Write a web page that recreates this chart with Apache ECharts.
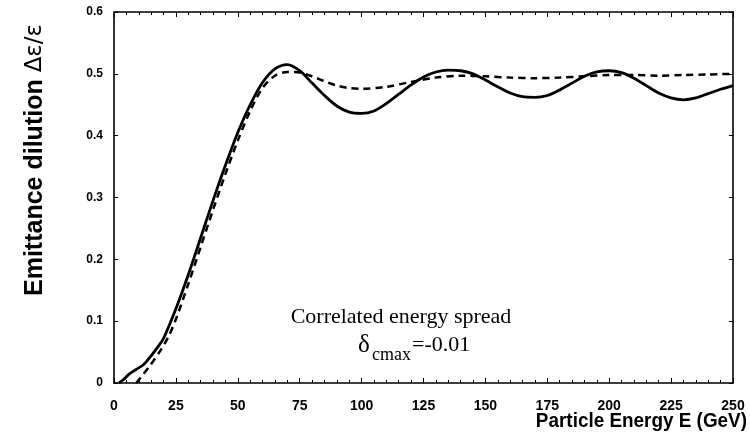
<!DOCTYPE html>
<html>
<head>
<meta charset="utf-8">
<script src="https://cdn.jsdelivr.net/npm/echarts@6/dist/echarts.min.js"></script>
<style>
html,body{margin:0;padding:0;background:#fff;}
#chart{width:750px;height:444px;}
</style>
</head>
<body>
<div id="chart"></div>
<script>
// Solid curve (correlated energy spread, with oscillation)
const solidE = [2, 4, 6, 9, 12, 15, 18, 20, 25, 30, 35, 40, 45, 50, 55, 60, 65, 70, 75, 80, 85, 90, 95, 100, 105, 110, 115, 120, 125, 130, 135, 140, 145, 150, 155, 160, 165, 170, 175, 180, 185, 190, 195, 200, 205, 210, 215, 220, 225, 230, 235, 240, 245, 250];
const solidV = [0, 0.006, 0.014, 0.022, 0.030, 0.044, 0.060, 0.072, 0.120, 0.175, 0.235, 0.295, 0.352, 0.405, 0.450, 0.486, 0.508, 0.515, 0.505, 0.485, 0.465, 0.448, 0.438, 0.436, 0.440, 0.452, 0.467, 0.482, 0.495, 0.503, 0.506, 0.505, 0.500, 0.490, 0.479, 0.469, 0.463, 0.462, 0.465, 0.474, 0.485, 0.496, 0.503, 0.505, 0.502, 0.493, 0.481, 0.469, 0.461, 0.458, 0.461, 0.468, 0.475, 0.481];
// Dashed curve
const dashE = [9, 11, 14.5, 19, 22, 25, 30, 35, 40, 45, 50, 55, 60, 65, 70, 75, 80, 85, 90, 95, 100, 110, 120, 130, 140, 150, 160, 170, 180, 190, 200, 210, 220, 230, 240, 250];
const dashV = [0, 0.010, 0.028, 0.054, 0.075, 0.103, 0.160, 0.220, 0.280, 0.338, 0.392, 0.440, 0.477, 0.497, 0.503, 0.502, 0.496, 0.488, 0.481, 0.477, 0.476, 0.479, 0.487, 0.494, 0.497, 0.496, 0.494, 0.493, 0.494, 0.496, 0.498, 0.498, 0.497, 0.498, 0.499, 0.500];
// Axis tick labels
const xTickValues = [0, 25, 50, 75, 100, 125, 150, 175, 200, 225, 250];
const yTickLabels = ['0', '0.1', '0.2', '0.3', '0.4', '0.5', '0.6'];

const solidData = solidE.map((e, i) => [e, solidV[i]]);
const dashData = dashE.map((e, i) => [e, dashV[i]]);

const chart = echarts.init(document.getElementById('chart'), null, {renderer: 'canvas'});
const axisLineStyle = {color: '#000', width: 1.6};
const labelFont = {color: '#000', fontWeight: 'bold', fontFamily: 'Liberation Sans, Arial, sans-serif'};

chart.setOption({
  animation: false,
  backgroundColor: '#fff',
  grid: {left: 114, right: 17, top: 12, bottom: 61, containLabel: false, outerBoundsMode: 'none'},
  xAxis: [{
    type: 'value', min: 0, max: 250, interval: 25, position: 'bottom',
    axisLine: {show: true, onZero: false, lineStyle: axisLineStyle},
    axisTick: {show: true, inside: true, length: 5, lineStyle: {color: '#000', width: 1}},
    minorTick: {show: true, splitNumber: 5, length: 3, lineStyle: {color: '#000', width: 1}},
    splitLine: {show: false},
    axisLabel: Object.assign({fontSize: 14, margin: 16,
      formatter: v => (xTickValues.indexOf(v) >= 0 ? String(v) : '')}, labelFont)
  }, {
    type: 'value', min: 0, max: 250, interval: 25, position: 'top',
    axisLine: {show: true, onZero: false, lineStyle: axisLineStyle},
    axisTick: {show: true, inside: true, length: 5, lineStyle: {color: '#000', width: 1}},
    minorTick: {show: true, splitNumber: 5, length: 3, lineStyle: {color: '#000', width: 1}},
    splitLine: {show: false},
    axisLabel: {show: false}
  }],
  yAxis: [{
    type: 'value', min: 0, max: 0.6, interval: 0.1, position: 'left',
    axisLine: {show: true, onZero: false, lineStyle: axisLineStyle},
    axisTick: {show: true, inside: true, length: 4, lineStyle: {color: '#000', width: 1}},
    splitLine: {show: false},
    axisLabel: Object.assign({fontSize: 12, margin: 11,
      formatter: v => yTickLabels[Math.round(v * 10)]}, labelFont)
  }, {
    type: 'value', min: 0, max: 0.6, interval: 0.1, position: 'right',
    axisLine: {show: true, onZero: false, lineStyle: axisLineStyle},
    axisTick: {show: true, inside: true, length: 4, lineStyle: {color: '#000', width: 1}},
    splitLine: {show: false},
    axisLabel: {show: false}
  }],
  series: [{
    type: 'line', data: dashData, xAxisIndex: 0, yAxisIndex: 0,
    showSymbol: false, smooth: 0.3,
    lineStyle: {color: '#000', width: 2.5, type: [7, 5]}
  }, {
    type: 'line', data: solidData, xAxisIndex: 0, yAxisIndex: 0,
    showSymbol: false, smooth: 0.3,
    lineStyle: {color: '#000', width: 2.8}
  }],
  graphic: [{
    type: 'text', x: 35, y: 160, rotation: Math.PI / 2,
    style: {
      text: '{b|Emittance dilution }{g|Δε/ε}',
      align: 'center', verticalAlign: 'middle',
      rich: {
        b: {fontSize: 25, fontWeight: 'bold', fontFamily: 'Liberation Sans, Arial, sans-serif', fill: '#000'},
        g: {fontSize: 23, fontFamily: 'DejaVu Sans, sans-serif', fill: '#000'}
      }
    }
  }, {
    type: 'text', x: 747, y: 421, scaleX: 0.9,
    style: {text: 'Particle Energy E (GeV)', align: 'right', verticalAlign: 'middle',
      fontSize: 21, fontWeight: 'bold', fontFamily: 'Liberation Sans, Arial, sans-serif', fill: '#000'}
  }, {
    type: 'text', x: 401, y: 317,
    style: {text: 'Correlated energy spread', align: 'center', verticalAlign: 'middle',
      fontSize: 22, fontFamily: 'Liberation Serif, Times New Roman, serif', fill: '#000'}
  }, {
    type: 'text', x: 358, y: 345,
    style: {text: 'δ', align: 'left', verticalAlign: 'middle',
      fontSize: 25, fontFamily: 'Liberation Serif, Times New Roman, serif', fill: '#000'}
  }, {
    type: 'text', x: 372, y: 355,
    style: {text: 'cmax', align: 'left', verticalAlign: 'middle',
      fontSize: 18, fontFamily: 'Liberation Serif, Times New Roman, serif', fill: '#000'}
  }, {
    type: 'text', x: 412, y: 345,
    style: {text: '=-0.01', align: 'left', verticalAlign: 'middle',
      fontSize: 22, fontFamily: 'Liberation Serif, Times New Roman, serif', fill: '#000'}
  }]
});
</script>
</body>
</html>
